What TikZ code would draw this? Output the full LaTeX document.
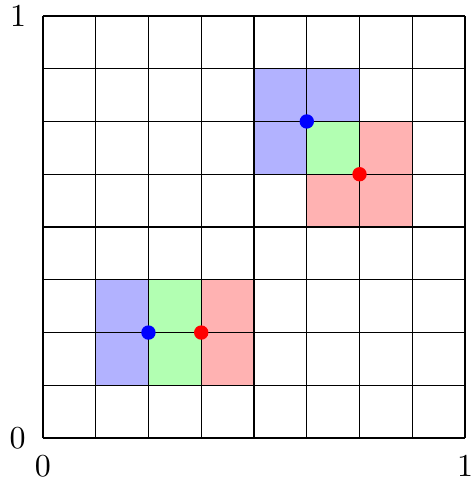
\documentclass[tikz,border=0pt]{standalone}
\begin{document}
\begin{tikzpicture}[x=0.58cm,y=0.58cm,
  gridline/.style={black,line width=0.4pt},
  bluefill/.style={fill=blue!30},
  redfill/.style={fill=red!30},
  greenfill/.style={fill=green!30},
  dotstyle/.style={circle,inner sep=0pt,minimum size=4.5pt}]
\useasboundingbox (-0.813,-0.775) rectangle (8.129,8.302);
% bottom pair
\fill[bluefill] (1,1) rectangle (3,3);
\fill[redfill] (2,1) rectangle (4,3);
\fill[greenfill] (2,1) rectangle (3,3);
% top pair
\fill[bluefill] (4,5) rectangle (6,7);
\fill[redfill] (5,4) rectangle (7,6);
\fill[greenfill] (5,5) rectangle (6,6);
% grid
\foreach \i in {0,...,8} {
  \draw[gridline] (\i,0) -- (\i,8);
  \draw[gridline] (0,\i) -- (8,\i);
}
% dots
\node[dotstyle,fill=blue] (b1) at (2,2) {};
\node[dotstyle,fill=red] (r1) at (3,2) {};
\node[dotstyle,fill=blue] (b2) at (5,6) {};
\node[dotstyle,fill=red] (r2) at (6,5) {};
% labels
\node (ytop) at (-0.47,8) {1};
\node (ybot) at (-0.48,0) {0};
\node (xleft) at (0,-0.53) {0};
\node (xright) at (8,-0.53) {1};
\end{tikzpicture}
\end{document}
